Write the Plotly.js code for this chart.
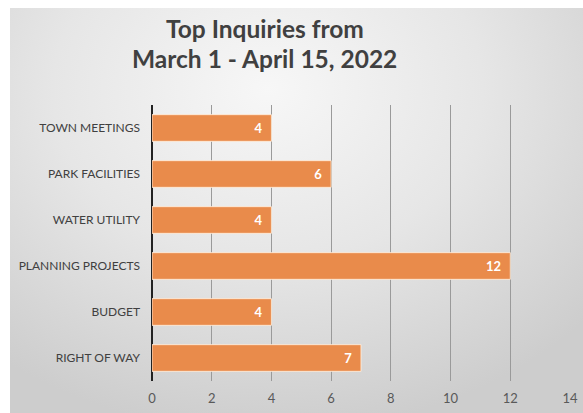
<!DOCTYPE html>
<html>
<head>
<meta charset="utf-8">
<script src="https://cdn.plot.ly/plotly-3.0.1.min.js"></script>
<style>
  html, body { margin: 0; padding: 0; background: #ffffff; width: 583px; height: 413px; overflow: hidden; }
  #chart {
    position: absolute; left: 10px; top: 8px; width: 573px; height: 405px;
    background: radial-gradient(ellipse 75% 85% at 45% 20%, #f7f7f7 0%, #e6e6e6 50%, #cdcdcd 100%);
  }
</style>
</head>
<body>
<div id="chart"></div>
<script>
const categories = ["TOWN MEETINGS", "PARK FACILITIES", "WATER UTILITY", "PLANNING PROJECTS", "BUDGET", "RIGHT OF WAY"];
const values = [4, 6, 4, 12, 4, 7];
const xTicks = [0, 2, 4, 6, 8, 10, 12, 14];
const titleLines = ["Top Inquiries from", "March 1 - April 15, 2022"];

const FONT = "Lato, 'Open Sans', sans-serif";

const trace = {
  type: "bar",
  orientation: "h",
  x: values,
  y: categories,
  text: values.map(v => String(v) + "\u00a0\u00a0"),
  textposition: "inside",
  insidetextanchor: "end",
  textfont: { family: FONT, size: 13, color: "#ffffff", weight: "bold" },
  marker: { color: "#E98B4B", line: { color: "rgba(255,235,215,0.9)", width: 1 } },
  hoverinfo: "none"
};

const titleAnn = titleLines.map((t, i) => ({
  text: "<b>" + t + "</b>",
  xref: "paper", yref: "paper",
  x: 0.27, y: [1.276, 1.168][i],
  xanchor: "center", yanchor: "middle",
  showarrow: false,
  font: { family: FONT, size: 24.5, color: "#404040" }
}));

const layout = {
  width: 573,
  height: 405,
  paper_bgcolor: "rgba(0,0,0,0)",
  plot_bgcolor: "rgba(0,0,0,0)",
  margin: { l: 142, r: 13, t: 97, b: 32 },
  bargap: 0.42,
  showlegend: false,
  annotations: titleAnn,
  xaxis: {
    range: [0, 14],
    tickvals: xTicks,
    ticktext: xTicks.map(String),
    showgrid: true,
    gridcolor: "#9a9a9a",
    gridwidth: 1,
    zeroline: true,
    zerolinecolor: "#222222",
    zerolinewidth: 2,
    showline: false,
    ticks: "",
    ticklabelstandoff: 8,
    tickfont: { family: FONT, size: 13, color: "#595959" },
    fixedrange: true
  },
  yaxis: {
    type: "category",
    autorange: "reversed",
    showgrid: false,
    zeroline: false,
    showline: false,
    ticks: "",
    ticklabelstandoff: 11,
    tickfont: { family: FONT, size: 12, color: "#404040" },
    fixedrange: true
  }
};

Plotly.newPlot("chart", [trace], layout, { displayModeBar: false, staticPlot: true });
</script>
</body>
</html>
